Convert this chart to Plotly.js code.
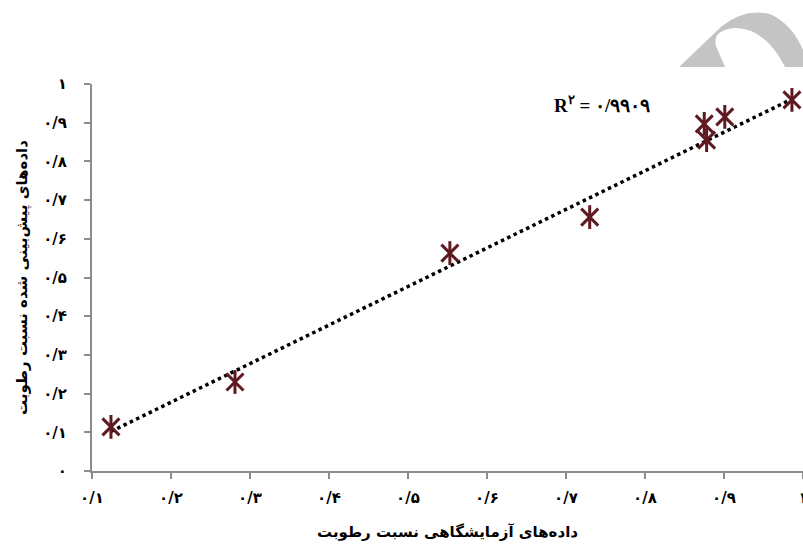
<!DOCTYPE html>
<html>
<head>
<meta charset="utf-8">
<script src="https://cdn.plot.ly/plotly-3.0.1.min.js"></script>
<style>
html,body{margin:0;padding:0;background:#fff;}
#chart{width:803px;height:552px;}
</style>
</head>
<body>
<div id="chart"></div>
<script>
// Observed (laboratory) vs predicted moisture ratio
const labMR = [0.124, 0.281, 0.553, 0.730, 0.875, 0.878, 0.901, 0.986];
const predMR = [0.114, 0.230, 0.563, 0.656, 0.897, 0.855, 0.915, 0.959];

// Linear trendline endpoints
const trendX = [0.124, 0.986];
const trendY = [0.102, 0.961];

const xTickVals = [0.1, 0.2, 0.3, 0.4, 0.5, 0.6, 0.7, 0.8, 0.9, 1.0];
const xTickText = ['۰/۱', '۰/۲', '۰/۳', '۰/۴', '۰/۵', '۰/۶', '۰/۷', '۰/۸', '۰/۹', '۱'];
const yTickVals = [0, 0.1, 0.2, 0.3, 0.4, 0.5, 0.6, 0.7, 0.8, 0.9, 1.0];
const yTickText = ['۰', '۰/۱', '۰/۲', '۰/۳', '۰/۴', '۰/۵', '۰/۶', '۰/۷', '۰/۸', '۰/۹', '۱'];

const xTitle = 'داده‌های آزمایشگاهی نسبت رطوبت';
const yTitle = 'داده‌های پیش‌بینی شده نسبت رطوبت';
const r2Label = 'R<sup>۲</sup> = ۰/۹۹۰۹';

const markerColor = '#5e1a20';
const axisColor = '#8c8c8c';
const persianFont = 'DejaVu Sans, Noto Sans, sans-serif';

// layout geometry
const W = 803, H = 552;
const M = {l: 92, r: 0, t: 84, b: 81};
const pw = W - M.l - M.r, ph = H - M.t - M.b;
function px(x){ return ((x - M.l) / pw).toFixed(4); }
function py(y){ return ((H - M.b - y) / ph).toFixed(4); }

// decorative grey arch in the top-right corner of the page
const archPath =
  'M' + px(679) + ',' + py(67) +
  ' L' + px(722) + ',' + py(26) +
  ' Q' + px(745) + ',' + py(8) + ' ' + px(770) + ',' + py(14) +
  ' Q' + px(792) + ',' + py(24) + ' ' + px(803) + ',' + py(50) +
  ' L' + px(803) + ',' + py(67) +
  ' L' + px(785) + ',' + py(67) +
  ' Q' + px(765) + ',' + py(28) + ' ' + px(735) + ',' + py(28) +
  ' Q' + px(712) + ',' + py(30) + ' ' + px(716) + ',' + py(46) +
  ' L' + px(725) + ',' + py(67) + ' Z';

const traces = [
  {
    x: trendX, y: trendY, type: 'scatter', mode: 'lines',
    line: {color: '#000', width: 3.5, dash: 'dot'},
    hoverinfo: 'skip'
  },
  {
    x: labMR, y: predMR, type: 'scatter', mode: 'markers',
    marker: {symbol: 'x-thin-open', size: 17, color: markerColor,
             line: {color: markerColor, width: 3}}
  },
  {
    x: labMR, y: predMR, type: 'scatter', mode: 'markers',
    marker: {symbol: 'line-ns-open', size: 17, color: markerColor,
             line: {color: markerColor, width: 3}}
  }
];

const layout = {
  width: W, height: H,
  margin: M,
  paper_bgcolor: '#fff', plot_bgcolor: '#fff',
  showlegend: false,
  font: {family: persianFont, color: '#000'},
  xaxis: {
    range: [0.1, 1.0],
    tickmode: 'array', tickvals: xTickVals, ticktext: xTickText,
    ticks: 'outside', ticklen: 6, tickwidth: 2, tickcolor: axisColor,
    showline: true, linecolor: axisColor, linewidth: 2,
    showgrid: false, zeroline: false,
    ticklabeloverflow: 'allow',
    ticklabelstandoff: 6,
    tickfont: {family: persianFont, size: 15, color: '#000', weight: 'bold'},
    title: {text: xTitle, standoff: 20,
            font: {family: persianFont, size: 15, color: '#000', weight: 'bold'}}
  },
  yaxis: {
    range: [0, 1],
    tickmode: 'array', tickvals: yTickVals, ticktext: yTickText,
    ticks: 'outside', ticklen: 6, tickwidth: 2, tickcolor: axisColor,
    showline: true, linecolor: axisColor, linewidth: 2,
    showgrid: false, zeroline: false,
    ticklabelstandoff: 14,
    tickfont: {family: persianFont, size: 15, color: '#000', weight: 'bold'},
    title: {text: yTitle, standoff: 12,
            font: {family: persianFont, size: 15, color: '#000', weight: 'bold'}}
  },
  annotations: [
    {
      xref: 'paper', yref: 'paper',
      x: px(552), y: py(104), xanchor: 'left', yanchor: 'middle',
      text: r2Label, showarrow: false,
      font: {family: 'Liberation Serif, DejaVu Serif, serif', size: 19, color: '#000', weight: 'bold'}
    }
  ],
  shapes: [
    {
      type: 'path', xref: 'paper', yref: 'paper', path: archPath,
      fillcolor: '#c4c4c4', line: {width: 0}, layer: 'above'
    }
  ]
};

Plotly.newPlot('chart', traces, layout, {displayModeBar: false, staticPlot: true});
</script>
</body>
</html>
